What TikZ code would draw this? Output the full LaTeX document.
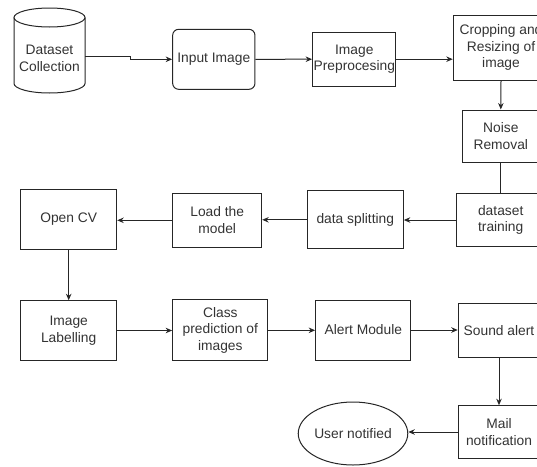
\documentclass[tikz,border=0pt]{standalone}
\usepackage{fontspec}
\setmainfont{Liberation Sans}
\usetikzlibrary{arrows.meta,calc,shapes.geometric}
\begin{document}
\begin{tikzpicture}[x=1pt,y=-1pt,
  txt/.style={inner sep=0pt, align=center, text=black!80, font=\fontsize{13.8}{16.5}\selectfont},
  box/.style={txt, draw=black!85, line width=1pt},
  arr/.style={draw=black!85, line width=1pt, -{Stealth[length=6.5pt,width=5.5pt]}},
  ln/.style={draw=black!85, line width=1pt}]
\useasboundingbox (0,0) rectangle (537,466);
\clip (0,0) rectangle (537,466);
% cylinder
\draw[ln] (14,17.5) -- (14,83.5) arc[start angle=180,end angle=360,x radius=35.5pt,y radius=9.5pt] -- (85,17.5);
\draw[ln] (49.5,17.5) ellipse [x radius=35.5pt, y radius=9.5pt];
\node[txt, minimum width=71pt, minimum height=60pt] (dc) at (49.5,58.5) {Dataset\\Collection};
\coordinate (dcout) at (85,56);
% top row
\node[box, minimum width=82.3pt, minimum height=60pt, rounded corners=6pt] (ii) at (213.8,59.3) {Input Image};
\node[box, minimum width=83.3pt, minimum height=53.7pt] (ip) at (354.3,59.2) {Image\\Preprocesing};
\node[box, minimum width=95.5pt, minimum height=65pt] (cr) at (501,47.5) {Cropping and\\Resizing of\\image};
\node[box, minimum width=77.5pt, minimum height=52pt] (nr) at (500.8,136) {Noise\\Removal};
% middle row
\node[box, minimum width=88pt, minimum height=53.4pt] (dt) at (500.7,220) {dataset\\training};
\node[box, minimum width=96pt, minimum height=58.3pt] (ds) at (355.3,219.8) {data splitting};
\node[box, minimum width=89pt, minimum height=54pt] (lm) at (217.2,220.3) {Load the\\model};
\node[box, minimum width=96pt, minimum height=60pt] (ocv) at (68.7,219) {Open CV};
% lower row
\node[box, minimum width=96pt, minimum height=59.5pt] (il) at (68.7,330.5) {Image\\Labelling};
\node[box, minimum width=95.3pt, minimum height=60.7pt] (cp) at (220.3,330.3) {Class\\prediction of\\images};
\node[box, minimum width=95.3pt, minimum height=60pt] (am) at (363.3,330) {Alert Module};
\node[box, minimum width=81.5pt, minimum height=54.3pt] (sa) at (499,330.2) {Sound alert};
\node[box, minimum width=81.5pt, minimum height=52.6pt] (mn) at (499,432) {Mail\\notification};
\node[box, ellipse, minimum width=102pt, minimum height=63pt] (un) at (353,433.5) {User notified};
% connectors
\draw[arr] (dcout) -- ++(45,0) |- (ii.west);
\draw[arr] (ii.east) -- (ip.west);
\draw[arr] (ip.east) -- (ip.east -| cr.west);
\draw[arr] (cr.south) -- (nr.north);
\draw[ln] (nr.south) -- (nr.south |- dt.north);
\draw[arr] (dt.west) -- (dt.west -| ds.east);
\draw[arr] (ds.west) -- (ds.west -| lm.east);
\draw[arr] (lm.west) -- (lm.west -| ocv.east);
\draw[arr] (ocv.south) -- (il.north);
\draw[arr] (il.east) -- (il.east -| cp.west);
\draw[arr] (cp.east) -- (cp.east -| am.west);
\draw[arr] (am.east) -- (am.east -| sa.west);
\draw[arr] (sa.south) -- (mn.north);
\draw[arr] (mn.west) -- (mn.west -| un.east);
\end{tikzpicture}
\end{document}
